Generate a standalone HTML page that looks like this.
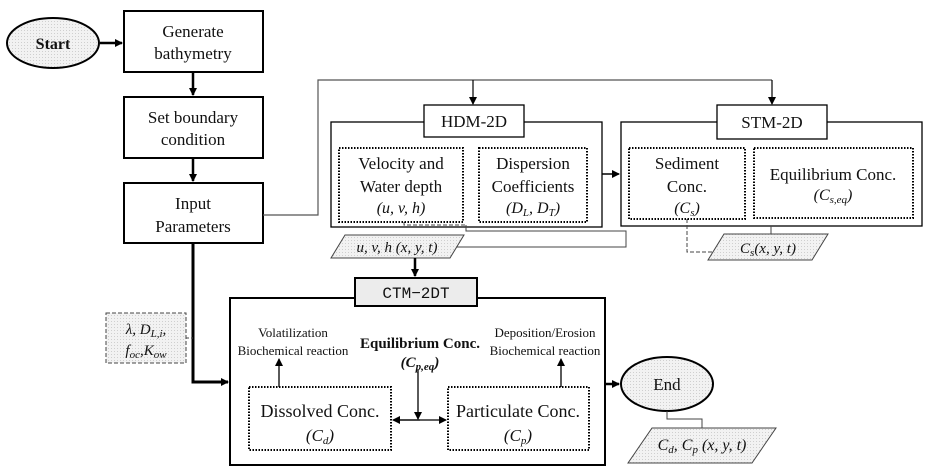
<!DOCTYPE html>
<html><head><meta charset="utf-8"><style>
body{margin:0;background:#fff}
svg{display:block}
text{font-family:"Liberation Serif",serif;fill:#111}
.m{font-style:italic}
</style></head><body>
<svg width="932" height="474" viewBox="0 0 932 474" xmlns="http://www.w3.org/2000/svg">
<defs>
<pattern id="dots" width="3" height="3" patternUnits="userSpaceOnUse"><rect width="3" height="3" fill="#f2f2f2"/><rect width="1" height="1" fill="#cfcfcf"/></pattern>
<marker id="a" markerWidth="8" markerHeight="8" refX="7" refY="4" orient="auto" markerUnits="userSpaceOnUse"><path d="M0,0 L8,4 L0,8 z" fill="#000"/></marker>
</defs>
<g fill="none" stroke="#000">
<ellipse cx="53" cy="43" rx="46" ry="25" fill="url(#dots)" stroke-width="2"/>
<line x1="100" y1="43" x2="122" y2="43" stroke-width="2.5" marker-end="url(#a)"/>
<rect x="124" y="11" width="139" height="61" stroke-width="2"/>
<line x1="193" y1="72" x2="193" y2="95" stroke-width="2.5" marker-end="url(#a)"/>
<rect x="124" y="97" width="139" height="61" stroke-width="2"/>
<line x1="193" y1="158" x2="193" y2="181" stroke-width="2.5" marker-end="url(#a)"/>
<rect x="124" y="183" width="139" height="60" stroke-width="2"/>
<polyline points="193,243 193,382 228,382" stroke-width="3" marker-end="url(#a)"/>
<polyline points="263,215 318,215 318,80 772,80" stroke="#555" stroke-width="1.2"/>
<line x1="473" y1="80" x2="473" y2="104" stroke-width="1.2" marker-end="url(#a)"/>
<line x1="772" y1="80" x2="772" y2="104" stroke-width="1.2" marker-end="url(#a)"/>
<rect x="331" y="122" width="271" height="105" stroke-width="1.3"/>
<rect x="424" y="105" width="100" height="32" fill="#fff" stroke-width="1.3"/>
<rect x="339" y="148" width="124" height="74" stroke-width="2" stroke-dasharray="1.5,1.5"/>
<rect x="479" y="148" width="108" height="74" stroke-width="2" stroke-dasharray="1.5,1.5"/>
<line x1="602" y1="174" x2="619" y2="174" stroke-width="1.5" marker-end="url(#a)"/>
<rect x="621" y="122" width="301" height="104" stroke-width="1.3"/>
<rect x="717" y="105" width="110" height="34" fill="#fff" stroke-width="1.3"/>
<rect x="629" y="148" width="116" height="71" stroke-width="2" stroke-dasharray="1.5,1.5"/>
<rect x="754" y="148" width="159" height="70" stroke-width="2" stroke-dasharray="1.5,1.5"/>
<polyline points="404,222 404,225 466,225" stroke="#444" stroke-dasharray="4,2"/>
<polyline points="466,225 466,231 626,231 626,247 452,247" stroke="#444"/>
<polyline points="687,219 687,252 722,252" stroke="#444" stroke-dasharray="4,2"/>
<line x1="771" y1="226" x2="771" y2="240" stroke="#444"/>
<polygon points="345,235 464,235 450,258 331,258" fill="url(#dots)" stroke="#444"/>
<polygon points="724,234 828,234 812,260 708,260" fill="url(#dots)" stroke="#444"/>
<line x1="415" y1="258" x2="415" y2="276" stroke-width="2.5" marker-end="url(#a)"/>
<rect x="230" y="298" width="375" height="167" stroke-width="2"/>
<rect x="355" y="278" width="122" height="28" fill="#ececec" stroke-width="2"/>
<rect x="106" y="313" width="80" height="50" fill="url(#dots)" stroke="#444" stroke-dasharray="4,2"/>
<line x1="186" y1="338" x2="193" y2="338" stroke="#444" stroke-dasharray="3,2"/>
<rect x="249" y="387" width="142" height="63" stroke-width="2" stroke-dasharray="1.5,1.5"/>
<rect x="448" y="387" width="141" height="63" stroke-width="2" stroke-dasharray="1.5,1.5"/>
<line x1="279" y1="387" x2="279" y2="359" stroke-width="1.3" marker-end="url(#a)"/>
<line x1="561" y1="387" x2="561" y2="359" stroke-width="1.3" marker-end="url(#a)"/>
<line x1="418" y1="370" x2="418" y2="419" stroke-width="1.3" marker-end="url(#a)"/>
<line x1="400" y1="420" x2="446" y2="420" stroke-width="1.3" marker-end="url(#a)"/>
<line x1="420" y1="420" x2="393" y2="420" stroke-width="1.3" marker-end="url(#a)"/>
<line x1="605" y1="384" x2="619" y2="384" stroke-width="2.5" marker-end="url(#a)"/>
<ellipse cx="667" cy="384" rx="46" ry="27" fill="url(#dots)" stroke-width="2"/>
<polyline points="667,411 667,419 702,419 702,428" stroke="#444"/>
<polygon points="652,428 776,428 752,463 628,463" fill="url(#dots)" stroke="#444"/>
</g>
<g font-size="17" text-anchor="middle">
<text x="53" y="49" font-weight="bold" font-size="16">Start</text>
<text x="193" y="37">Generate</text><text x="193" y="59">bathymetry</text>
<text x="193" y="123">Set boundary</text><text x="193" y="145">condition</text>
<text x="193" y="209">Input</text><text x="193" y="232">Parameters</text>
<text x="474" y="127">HDM-2D</text>
<text x="772" y="128">STM-2D</text>
<text x="401" y="169">Velocity and</text><text x="401" y="192">Water depth</text>
<text x="401" y="213" class="m" font-size="16">(u, v, h)</text>
<text x="533" y="169">Dispersion</text><text x="533" y="192">Coefficients</text>
<text x="533" y="213" class="m" font-size="16">(D<tspan font-size="11" dy="3">L</tspan><tspan dy="-3">, D</tspan><tspan font-size="11" dy="3">T</tspan><tspan dy="-3">)</tspan></text>
<text x="687" y="169">Sediment</text><text x="687" y="192">Conc.</text>
<text x="687" y="213" class="m" font-size="16">(C<tspan font-size="11" dy="3">s</tspan><tspan dy="-3">)</tspan></text>
<text x="833" y="180">Equilibrium Conc.</text>
<text x="833" y="200" class="m" font-size="16">(C<tspan font-size="11" dy="3">s,eq</tspan><tspan dy="-3">)</tspan></text>
<text x="397" y="252" class="m" font-size="15">u, v, h (x, y, t)</text>
<text x="768" y="253" class="m" font-size="15">C<tspan font-size="11" dy="3">s</tspan><tspan dy="-3">(x, y, t)</tspan></text>
<text x="416" y="298" font-size="16" style="font-family:'Liberation Mono',monospace">CTM−2DT</text>
<text x="146" y="334" class="m" font-size="15">λ, D<tspan font-size="11" dy="3">L,i</tspan><tspan dy="-3">,</tspan></text>
<text x="146" y="355" class="m" font-size="15">f<tspan font-size="11" dy="3">oc</tspan><tspan dy="-3">,K</tspan><tspan font-size="11" dy="3">ow</tspan></text>
<text x="293" y="337" font-size="13">Volatilization</text>
<text x="293" y="355" font-size="13">Biochemical reaction</text>
<text x="545" y="337" font-size="13">Deposition/Erosion</text>
<text x="545" y="355" font-size="13">Biochemical reaction</text>
<text x="420" y="348" font-weight="bold" font-size="15">Equilibrium Conc.</text>
<text x="420" y="367" font-weight="bold" class="m" font-size="15">(C<tspan font-size="11" dy="3">p,eq</tspan><tspan dy="-3">)</tspan></text>
<text x="320" y="417" font-size="18">Dissolved Conc.</text>
<text x="320" y="441" class="m">(C<tspan font-size="11" dy="3">d</tspan><tspan dy="-3">)</tspan></text>
<text x="518" y="417" font-size="18">Particulate Conc.</text>
<text x="518" y="441" class="m">(C<tspan font-size="11" dy="3">p</tspan><tspan dy="-3">)</tspan></text>
<text x="667" y="390">End</text>
<text x="702" y="450" class="m" font-size="16">C<tspan font-size="11" dy="3">d</tspan><tspan dy="-3">, C</tspan><tspan font-size="11" dy="3">p</tspan><tspan dy="-3"> (x, y, t)</tspan></text>
</g>
</svg>
</body></html>
